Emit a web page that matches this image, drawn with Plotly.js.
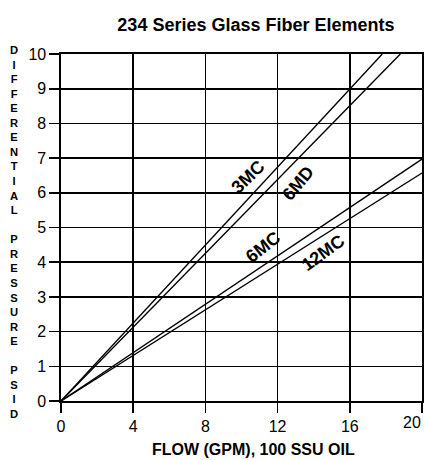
<!DOCTYPE html>
<html>
<head>
<meta charset="utf-8">
<script src="https://cdn.plot.ly/plotly-3.0.1.min.js"></script>
<style>html,body{margin:0;padding:0;background:#fff;}#chart{width:425px;height:460px;}</style>
</head>
<body>
<div id="chart"></div>
<script>
// Data
var seriesNames = ['3MC', '6MD', '6MC', '12MC'];
var flow3MC  = [0, 8, 16, 17.8];
var psid3MC  = [0, 4.5, 9.0, 10];
var flow6MD  = [0, 8, 16, 18.8];
var psid6MD  = [0, 4.26, 8.52, 10];
var flow6MC  = [0, 12, 20];
var psid6MC  = [0, 4.18, 6.97];
var flow12MC = [0, 12, 20];
var psid12MC = [0, 3.94, 6.57];
// label anchor positions (data units) and angles
var labelX = [10.36, 13.15, 11.2, 14.5];
var labelY = [6.46, 6.28, 4.44, 4.27];
var labelAngle = [-44, -50, -38, -36];
var xTickVals = [0, 4, 8, 12, 16, 20];
var xTickText = ['0', '4', '8', '12', '16', ''];
var lastXTick = '20';
var titleText = '234 Series Glass Fiber Elements';
var xTitle = 'FLOW (GPM), 100 SSU OIL';
var yTitleWords = ['DIFFERENTIAL', 'PRESSURE', 'PSID'];

var font = '"Liberation Sans", Arial, Helvetica, sans-serif';
var xs = [flow3MC, flow6MD, flow6MC, flow12MC];
var ys = [psid3MC, psid6MD, psid6MC, psid12MC];

var traces = seriesNames.map(function(n, i){
  return {x: xs[i], y: ys[i], mode: 'lines', name: n, line: {color: '#000', width: 1.4}, hoverinfo: 'skip'};
});

var yTitle = yTitleWords.map(function(w){ return w.split('').join('<br>'); }).join('<br> <br>');

var annotations = seriesNames.map(function(n, i){
  return {x: labelX[i], y: labelY[i], xref: 'x', yref: 'y', text: '<b>' + n + '</b>', showarrow: false,
          textangle: labelAngle[i], font: {family: font, size: 18, color: '#000'}};
});
annotations.push({x: 0.532, y: -0.141, xref: 'paper', yref: 'paper', text: '<b>' + xTitle + '</b>', showarrow: false,
  xanchor: 'center', yanchor: 'middle', font: {family: font, size: 16, color: '#000'}});
annotations.push({x: -0.130, y: 0.4856, xref: 'paper', yref: 'paper', text: '<b>' + yTitle + '</b>', showarrow: false,
  xanchor: 'center', yanchor: 'middle', font: {family: font, size: 11.2, color: '#000'}});
annotations.push({x: 1.003, y: -0.061, xref: 'paper', yref: 'paper', text: lastXTick, showarrow: false,
  xanchor: 'right', yanchor: 'middle', font: {family: font, size: 16, color: '#000'}});

var axisCommon = {
  showgrid: true, gridcolor: '#000', gridwidth: 1.6,
  showline: true, linecolor: '#000', linewidth: 1.6, mirror: true,
  ticks: 'outside', ticklen: 10, tickwidth: 1.6, tickcolor: '#000',
  zeroline: false, fixedrange: true,
  tickfont: {family: font, size: 16, color: '#000'}
};

var layout = {
  width: 425, height: 460,
  margin: {l: 61, r: 3, t: 54, b: 59},
  paper_bgcolor: '#fff', plot_bgcolor: '#fff',
  showlegend: false,
  title: {text: '<b>' + titleText + '</b>', xref: 'paper', x: 0.54, xanchor: 'center',
          yref: 'container', y: 0.9457, yanchor: 'middle',
          font: {family: font, size: 18, color: '#000'}},
  xaxis: Object.assign({}, axisCommon, {range: [0, 20], tickmode: 'array', tickvals: xTickVals, ticktext: xTickText}),
  yaxis: Object.assign({}, axisCommon, {range: [0, 10], tickmode: 'linear', tick0: 0, dtick: 1}),
  annotations: annotations
};

Plotly.newPlot('chart', traces, layout, {displayModeBar: false, staticPlot: true});
</script>
</body>
</html>
